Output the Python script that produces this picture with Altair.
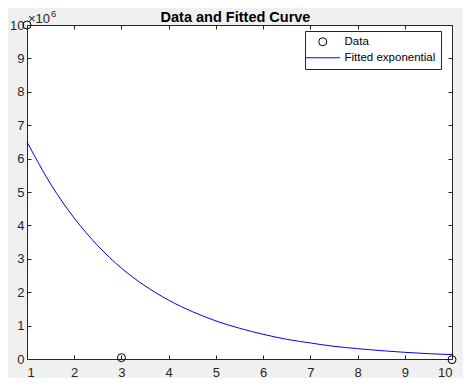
import altair as alt
import pandas as pd

# ---- data ----
series = ["Data", "Fitted exponential"]
data_x = [1, 3, 10]
data_y = [10.0e6, 0.04e6, -0.02e6]

fit_x = [1, 1.5, 2, 2.5, 3, 3.5, 4, 4.5, 5, 5.5, 6, 6.5, 7, 7.5, 8, 8.5, 9, 9.5, 10]
fit_y_millions = [6.50, 5.24, 4.22, 3.39, 2.72, 2.19, 1.76, 1.42, 1.14, 0.92,
                  0.74, 0.59, 0.48, 0.38, 0.31, 0.25, 0.20, 0.16, 0.13]

x_ticks = [1, 2, 3, 4, 5, 6, 7, 8, 9, 10]
y_ticks_millions = [0, 1, 2, 3, 4, 5, 6, 7, 8, 9, 10]
title_text = "Data and Fitted Curve"
exp_base = "\u00d710"
exp_power = "6"

FONT = "Liberation Sans"
AX = "#262626"
W, H = 425, 334

df_pts = pd.DataFrame({"x": data_x, "y": data_y, "series": series[0]})
df_fit = pd.DataFrame({"x": fit_x, "y": [v * 1e6 for v in fit_y_millions], "series": series[1]})

xscale = alt.Scale(domain=[1, 10], nice=False, zero=False)
yscale = alt.Scale(domain=[0, 1e7], nice=False, zero=False)
y_vals = [v * 1e6 for v in y_ticks_millions]

legend = alt.Legend(
    title=None, orient="none", legendX=278, legendY=6, direction="vertical",
    padding=5, strokeColor=AX, fillColor="white", symbolSize=64,
    symbolStrokeWidth=1, symbolOffset=7, labelOffset=16, labelFont=FONT,
    labelFontSize=11.5, labelColor="black", rowPadding=3, cornerRadius=0,
    labelLimit=300,
)
color = alt.Color("series:N", scale=alt.Scale(domain=series, range=["#000000", "#0000ff"]), legend=legend)
shape = alt.Shape("series:N", scale=alt.Scale(domain=series, range=["circle", "M-4.3,0L4.3,0"]), legend=legend)

bottom_axis = alt.Axis(orient="bottom", values=x_ticks, offset=-4, tickSize=4, labelPadding=7,
                       domain=False, grid=False, title=None)
left_axis = alt.Axis(orient="left", values=y_vals, offset=-4, tickSize=4, labelPadding=3,
                     domain=False, grid=False, title=None, labelExpr="datum.value / 1000000")
top_axis = alt.Axis(orient="top", values=x_ticks, offset=-4, tickSize=4, labels=False,
                    domain=False, grid=False, title=None)
right_axis = alt.Axis(orient="right", values=y_vals, offset=-4, tickSize=4, labels=False,
                      domain=False, grid=False, title=None)

points = alt.Chart(df_pts).mark_point(filled=False, size=64, strokeWidth=1, opacity=1, clip=False).encode(
    x=alt.X("x:Q", scale=xscale, axis=bottom_axis),
    y=alt.Y("y:Q", scale=yscale, axis=left_axis),
    color=color,
    shape=shape,
)

line = alt.Chart(df_fit).mark_line(strokeWidth=1, interpolate="monotone").encode(
    x=alt.X("x:Q", scale=xscale, axis=top_axis),
    y=alt.Y("y:Q", scale=yscale, axis=right_axis),
    color=color,
)

exp1 = alt.Chart(pd.DataFrame({"t": [exp_base]})).mark_text(
    align="left", baseline="alphabetic", font=FONT, fontSize=13, color=AX
).encode(text="t:N", x=alt.value(1), y=alt.value(-2))
exp2 = alt.Chart(pd.DataFrame({"t": [exp_power]})).mark_text(
    align="left", baseline="alphabetic", font=FONT, fontSize=9.5, color=AX
).encode(text="t:N", x=alt.value(24), y=alt.value(-8))
title = alt.Chart(pd.DataFrame({"t": [title_text]})).mark_text(
    align="center", baseline="alphabetic", font=FONT, fontSize=14.5, fontWeight="bold", color="black"
).encode(text="t:N", x=alt.value(208.5), y=alt.value(-3))

chart = alt.layer(points, line, exp1, exp2, title).resolve_axis(x="independent", y="independent").properties(
    width=W, height=H, autosize="none",
    padding={"left": 19, "top": 17, "right": 11, "bottom": 19},
).configure(background="#f0f0f0").configure_view(
    fill="white", stroke=AX, strokeWidth=1
).configure_axis(
    labelFont=FONT, labelFontSize=13, labelColor=AX, tickColor=AX, tickWidth=1
)

chart.save("out.html", embed_options={"renderer": "svg", "actions": False})
